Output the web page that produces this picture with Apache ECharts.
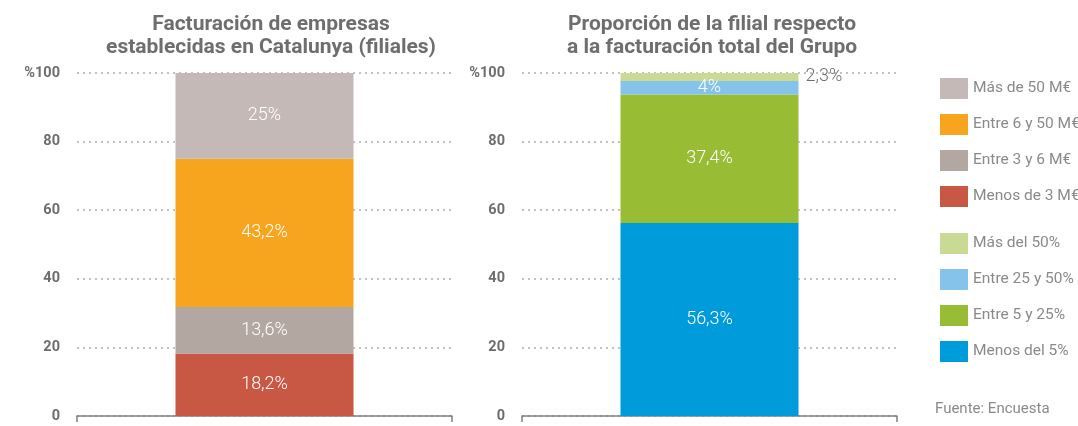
<!DOCTYPE html>
<html>
<head>
<meta charset="utf-8">
<script src="https://cdn.jsdelivr.net/npm/echarts@6/dist/echarts.min.js"></script>
<style>
  html, body { margin: 0; padding: 0; background: #fff; }
  #chart { width: 1078px; height: 426px; }
</style>
</head>
<body>
<div id="chart"></div>
<script>
// datos del gráfico (de abajo arriba)
const facturacionNames = ['Menos de 3 M€', 'Entre 3 y 6 M€', 'Entre 6 y 50 M€', 'Más de 50 M€']
const facturacionValues = [18.2, 13.6, 43.2, 25]
const facturacionColors = ['#c85743', '#b3a7a2', '#f7a51e', '#c4b9b6']

const proporcionNames = ['Menos del 5%', 'Entre 5 y 25%', 'Entre 25 y 50%', 'Más del 50%']
const proporcionValues = [56.3, 37.4, 4, 2.3]
const proporcionColors = ['#009bdb', '#98bc34', '#85c3ea', '#c8da94']

const yTicks = [0, 20, 40, 60, 80, 100]

const gray = '#6d6e70'
const fmt = v => String(v).replace('.', ',') + '%'

const chart = echarts.init(document.getElementById('chart'))

const makeSeries = (names, values, colors, idx) => names.map((name, i) => ({
  name,
  type: 'bar',
  stack: 's' + idx,
  xAxisIndex: idx,
  yAxisIndex: idx,
  barWidth: 178,
  data: [values[i]],
  itemStyle: { color: colors[i] },
  label: {
    show: true,
    position: (idx === 1 && i === 3) ? 'right' : 'inside',
    distance: 7,
    color: (idx === 1 && i === 3) ? gray : '#fff',
    fontSize: 18,
    fontWeight: 300,
    fontFamily: 'Roboto',
    formatter: p => fmt(p.value)
  }
}))

const yAxisCfg = idx => ({
  type: 'value',
  gridIndex: idx,
  min: yTicks[0],
  max: yTicks[yTicks.length - 1],
  interval: 20,
  axisLine: { show: false },
  axisTick: { show: false },
  axisLabel: {
    color: gray,
    fontWeight: 'bold',
    fontSize: 14.5,
    fontFamily: 'Roboto',
    margin: 17,
    formatter: v => (v === 100 ? '%100' : String(v))
  },
  splitLine: { lineStyle: { color: '#c8c0be', type: [2, 4], width: 2 } }
})

const xAxisCfg = idx => ({
  type: 'category',
  gridIndex: idx,
  data: [''],
  axisLine: { lineStyle: { color: '#808080', width: 1.5 } },
  axisTick: { show: true, length: 6, lineStyle: { color: '#808080', width: 1.5 } },
  axisLabel: { show: false }
})

const legendCfg = (names, top) => ({
  orient: 'vertical',
  left: 935,
  top,
  itemWidth: 28,
  itemHeight: 21,
  itemGap: 15,
  icon: 'rect',
  data: names.slice().reverse(),
  selectedMode: false,
  textStyle: {
    color: '#8a8a8c',
    fontSize: 15.5,
    fontFamily: 'Roboto',
    padding: [12, 0, 0, 0]
  }
})

const titleStyle = { color: gray, fontSize: 21, fontWeight: 'bold', fontFamily: 'Roboto', lineHeight: 23 }

const option = {
  animation: false,
  title: [
    {
      text: 'Facturación de empresas\nestablecidas en Catalunya (filiales)',
      left: 266,
      top: 8,
      textAlign: 'center',
      textStyle: titleStyle
    },
    {
      text: 'Proporción de la filial respecto\na la facturación total del Grupo',
      left: 707,
      top: 8,
      textAlign: 'center',
      textStyle: titleStyle
    }
  ],
  grid: [
    { left: 77, width: 375, top: 73, height: 343 },
    { left: 522, width: 375, top: 73, height: 343 }
  ],
  xAxis: [xAxisCfg(0), xAxisCfg(1)],
  yAxis: [yAxisCfg(0), yAxisCfg(1)],
  legend: [
    legendCfg(facturacionNames, 73),
    legendCfg(proporcionNames, 228)
  ],
  graphic: [
    {
      type: 'text',
      left: 935,
      top: 402,
      style: { text: 'Fuente: Encuesta', fill: '#8a8a8c', fontSize: 15, fontFamily: 'Roboto' }
    }
  ],
  series: [
    ...makeSeries(facturacionNames, facturacionValues, facturacionColors, 0),
    ...makeSeries(proporcionNames, proporcionValues, proporcionColors, 1)
  ]
}

chart.setOption(option)
</script>
</body>
</html>
